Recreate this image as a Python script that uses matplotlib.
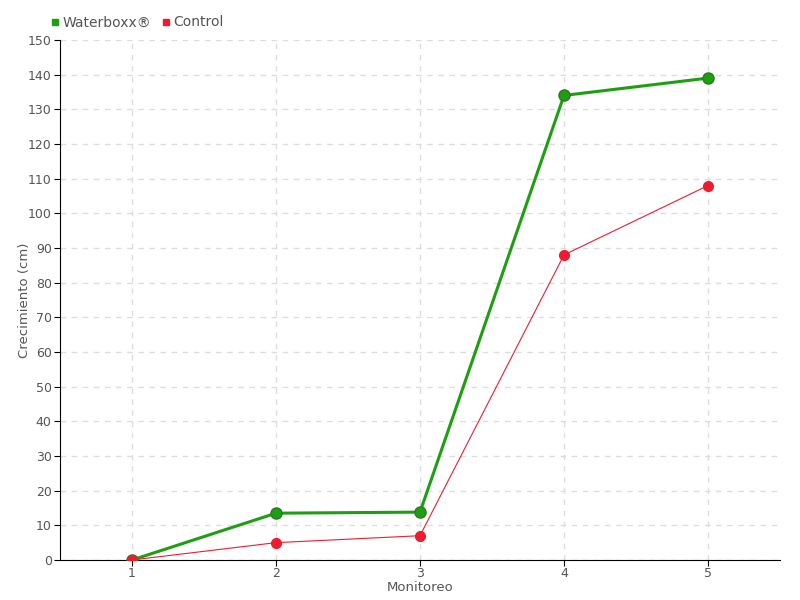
import matplotlib
matplotlib.use("Agg")
import matplotlib.pyplot as plt
from matplotlib.lines import Line2D

monitoreo = [1, 2, 3, 4, 5]
waterboxx = [0, 13.5, 13.8, 134, 139]
control = [0, 5, 7, 88, 108]

green = "#1e9e12"
red = "#ee1c2e"
text_gray = "#555555"

plt.rcParams["font.family"] = ["DejaVu Sans"]

fig = plt.figure(figsize=(8, 6), dpi=100)
ax = fig.add_axes([0.075, 0.0667, 0.9, 0.8667])

ax.plot(monitoreo, waterboxx, color=green, lw=2.2, marker="o", ms=8,
        markeredgecolor="#2a7a1e", markeredgewidth=1, zorder=3)
ax.plot(monitoreo, control, color=red, lw=0.8, marker="o", ms=7,
        markeredgecolor=red, zorder=4)

ax.set_xlim(0.5, 5.5)
ax.set_ylim(0, 150)
ax.set_xticks(monitoreo)
ax.set_yticks(range(0, 151, 10))
ax.grid(True, color="#dddddd", linestyle=(0, (4, 4)), lw=1)
ax.set_axisbelow(True)
for s in ["top", "right"]:
    ax.spines[s].set_visible(False)
ax.tick_params(length=4, labelsize=9, colors="#000000", labelcolor=text_gray)
ax.tick_params(axis="y", pad=2)
ax.tick_params(axis="x", pad=1)

ax.set_xlabel("Monitoreo", fontsize=9.5, color=text_gray)
ax.xaxis.set_label_coords(0.5, -0.041)
ax.set_ylabel("Crecimiento (cm)", fontsize=9.5, color=text_gray)
ax.yaxis.set_label_coords(-0.04, 0.5)

handles = [Line2D([], [], marker="s", ls="", color=green, ms=5),
           Line2D([], [], marker="s", ls="", color=red, ms=5)]
leg = fig.legend(handles, ["Waterboxx®", "Control"], loc="upper left",
                 bbox_to_anchor=(0.045, 0.995), ncol=2, frameon=False,
                 handletextpad=0.0, columnspacing=0.6, handlelength=1.0,
                 fontsize=10, labelcolor=text_gray)

fig.savefig("out.png", dpi=100)
